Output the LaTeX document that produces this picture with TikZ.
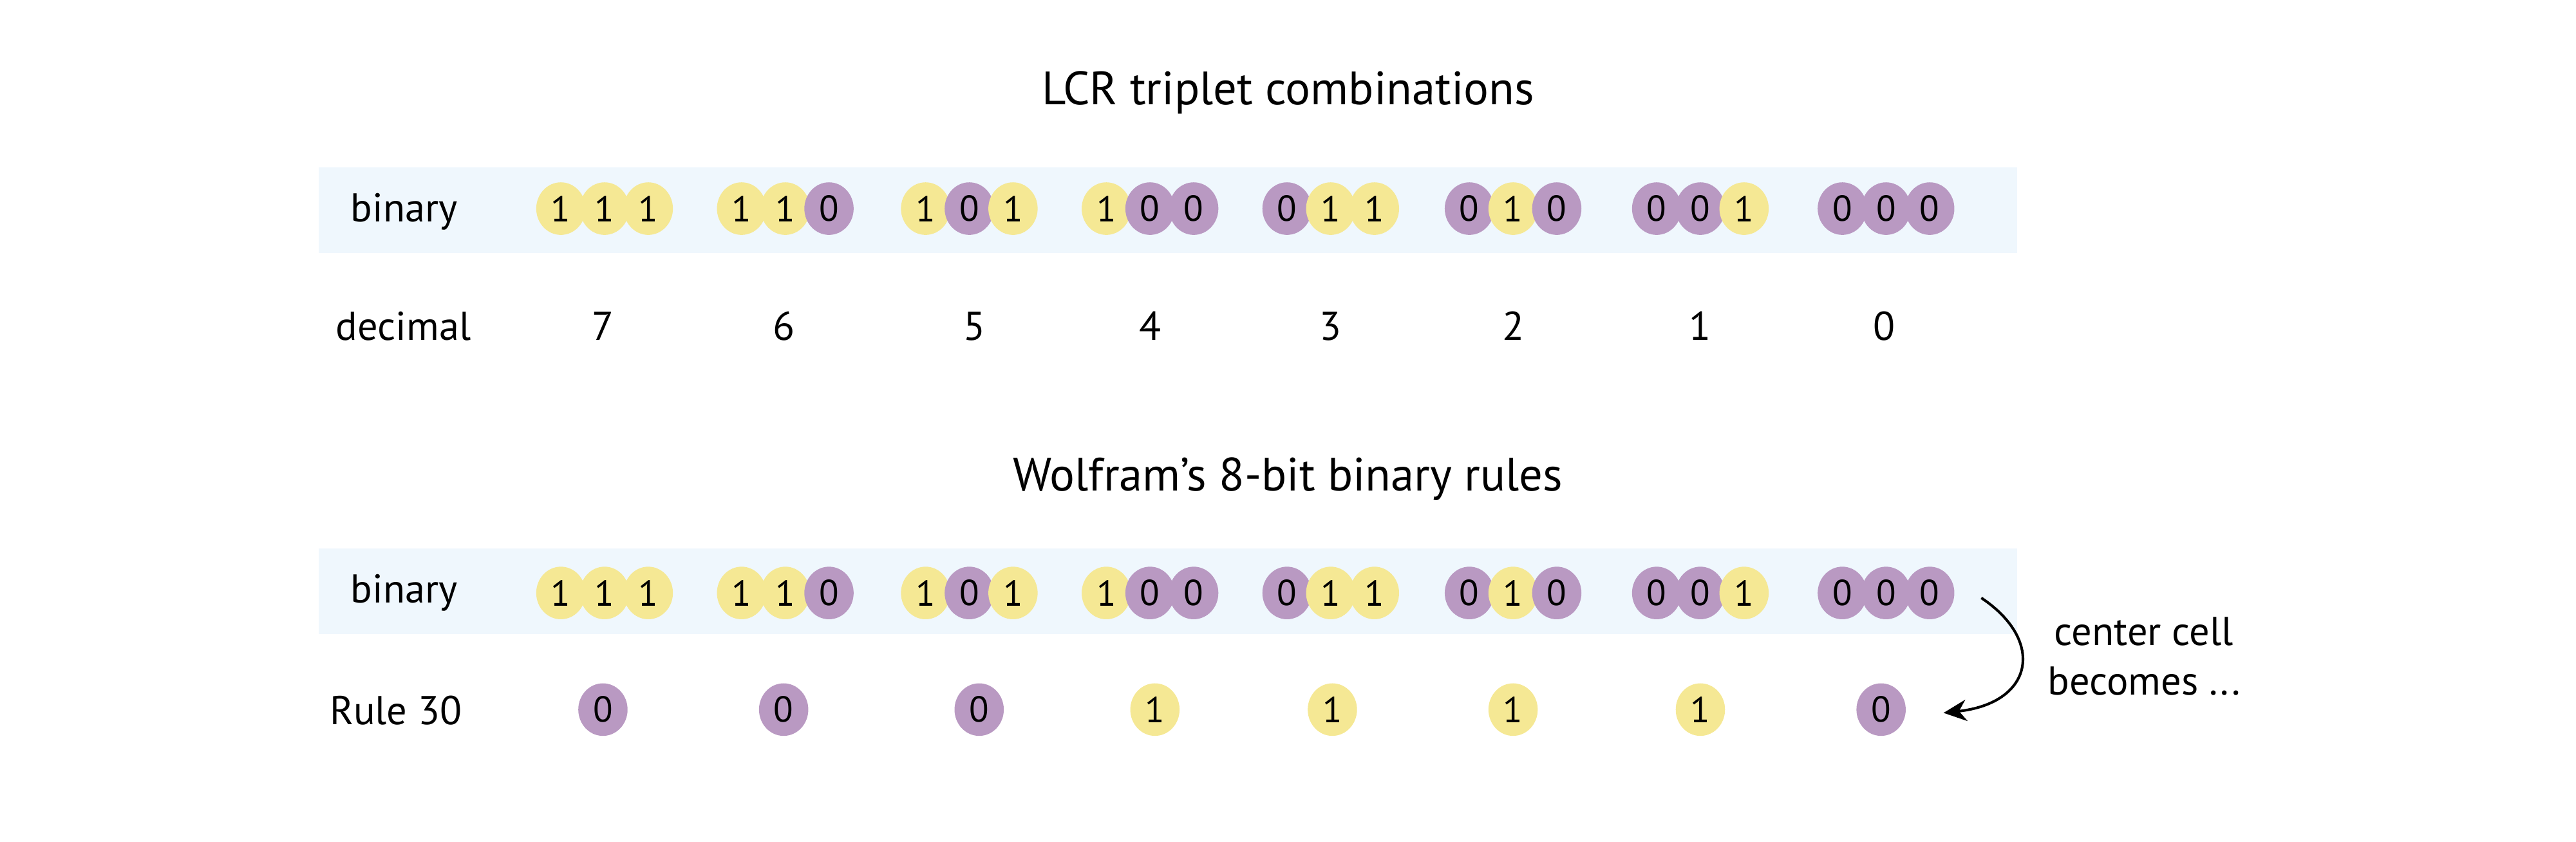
\documentclass[tikz,border=0pt]{standalone}
\usepackage{fontspec}
\setmainfont{PT Sans}
\usetikzlibrary{arrows.meta,shapes.geometric}
\definecolor{band}{RGB}{239,247,253}
\definecolor{yel}{RGB}{245,232,148}
\definecolor{pur}{RGB}{185,153,194}
\begin{document}
\begin{tikzpicture}[x=1pt,y=-1pt,
  cell/.style={ellipse, minimum width=30pt, minimum height=32pt, inner sep=0pt, font=\fontsize{22}{22}\selectfont},
  b1/.style={cell, fill=yel},
  b0/.style={cell, fill=pur},
  lbl/.style={font=\fontsize{24.5}{29}\selectfont, anchor=base, inner sep=0pt},
  ttl/.style={font=\fontsize{28.5}{34}\selectfont, anchor=base, inner sep=0pt},
  bandbox/.style={fill=band, draw=none},
  arr/.style={line width=1.6pt, -{Stealth[length=14pt,width=13pt]}}]
\useasboundingbox (0,0) rectangle (1568,512.6);
% titles
\node[ttl] (title1) at (784,63.5) {LCR triplet combinations};
\node[ttl] (title2) at (784,299) {Wolfram’s 8-bit binary rules};
% bands
\fill[bandbox] (194,102) rectangle (1228,154);
\fill[bandbox] (194,334) rectangle (1228,386);
% row labels
\node[lbl] (lb1) at (246,135) {binary};
\node[lbl] (ld) at (245.5,207) {decimal};
\node[lbl] (lb2) at (246,367) {binary};
\node[lbl] (lr) at (241,441) {Rule 30};
% triplets row 1
\foreach \x/\a/\b/\c [count=\i] in {368/1/1/1,478/1/1/0,590/1/0/1,700/1/0/0,810/0/1/1,921/0/1/0,1035/0/0/1,1148/0/0/0}{
  \node[b\a] (t\i a) at (\x-26.6,127) {\a};
  \node[b\b] (t\i b) at (\x,127) {\b};
  \node[b\c] (t\i c) at (\x+26.6,127) {\c};
}
% decimal
\foreach \x/\d [count=\i] in {367/7,477/6,593/5,700/4,810/3,921/2,1035/1,1147/0}{
  \node[lbl] (d\i) at (\x,207) {\d};
}
% triplets row 2
\foreach \x/\a/\b/\c [count=\i] in {368/1/1/1,478/1/1/0,590/1/0/1,700/1/0/0,810/0/1/1,921/0/1/0,1035/0/0/1,1148/0/0/0}{
  \node[b\a] (u\i a) at (\x-26.6,361) {\a};
  \node[b\b] (u\i b) at (\x,361) {\b};
  \node[b\c] (u\i c) at (\x+26.6,361) {\c};
}
% rule 30
\foreach \x/\v [count=\i] in {367/0,477/0,596/0,703/1,811/1,921/1,1035/1,1145/0}{
  \node[b\v] (r\i) at (\x,432) {\v};
}
% arrow
\coordinate (as) at (1206,364);
\coordinate (ae) at (1183,434);
\draw[arr] (as) .. controls (1245,390) and (1238,428) .. (ae);
\node[lbl, align=center, anchor=base] (note) at (1305,393) {center cell};
\node[lbl, anchor=base] (note2) at (1305,423) {becomes ...};
\end{tikzpicture}
\end{document}
